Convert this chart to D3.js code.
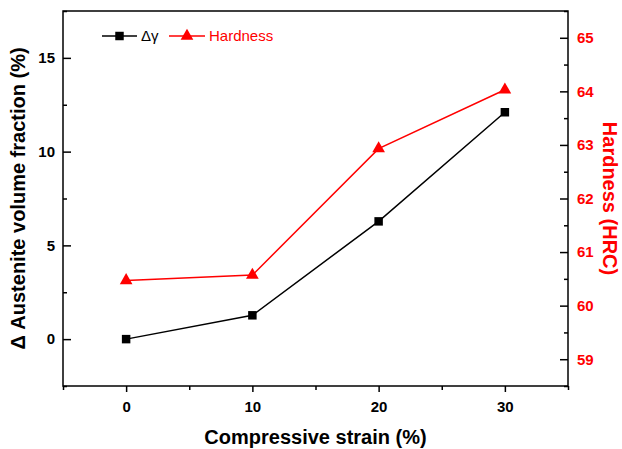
<!DOCTYPE html>
<html>
<head>
<meta charset="UTF-8">
<title>Austenite fraction and hardness vs strain</title>
<script src="https://d3js.org/d3.v7.min.js"></script>
<style>
    body { margin: 0; background: #fff; }
    svg text { font-family: Arial, "Liberation Sans", sans-serif; }
</style>
</head>
<body>
<svg id="chart" width="622" height="449"></svg>
<script>
    // data
    const strain = [0, 10, 20, 30];
    const deltaGamma = [0, 1.27, 6.28, 12.1];
    const hardness = [60.47, 60.57, 62.93, 64.03];
    const xTicks = [0, 10, 20, 30];
    const leftTicks = [0, 5, 10, 15];
    const rightTicks = [59, 60, 61, 62, 63, 64, 65];

    const svg = d3.select('#chart');
    const margin = {left: 63, right: 54, top: 11, bottom: 63};
    const width = 622 - margin.left - margin.right;
    const height = 449 - margin.top - margin.bottom;
    const red = '#ff0000';

    const x = d3.scaleLinear().domain([-5, 35]).range([0, width]);
    const yL = d3.scaleLinear().domain([-2.5, 17.5]).range([height, 0]);
    const yR = d3.scaleLinear().domain([58.5, 65.5]).range([height, 0]);

    const g = svg.append('g').attr('transform', `translate(${margin.left},${margin.top})`);

    // frame
    g.append('rect')
        .attr('width', width).attr('height', height)
        .attr('fill', 'none').attr('stroke', '#000').attr('stroke-width', 1.5);

    function styleAxis(sel, color) {
        sel.select('.domain').remove();
        sel.selectAll('line').attr('stroke', '#000').attr('stroke-width', 1.5);
        sel.selectAll('text')
            .attr('font-size', 15).attr('font-weight', 'bold').attr('fill', color);
    }
    function minor(s) {
        s.select('.domain').remove();
        s.selectAll('line').attr('stroke-width', 1.5);
    }

    // bottom axis, ticks outward
    const xAxis = g.append('g').attr('transform', `translate(0,${height})`)
        .call(d3.axisBottom(x).tickValues(xTicks).tickSize(6).tickPadding(9).tickFormat(d3.format('d')));
    styleAxis(xAxis, '#000');
    g.append('g').attr('transform', `translate(0,${height})`)
        .call(d3.axisBottom(x).tickValues([-5, 5, 15, 25, 35]).tickSize(4).tickFormat(''))
        .call(minor);

    // left axis, ticks inward
    const lAxis = g.append('g')
        .call(d3.axisLeft(yL).tickValues(leftTicks).tickSize(-8).tickPadding(8).tickFormat(d3.format('d')));
    styleAxis(lAxis, '#000');
    g.append('g')
        .call(d3.axisLeft(yL).tickValues([-2.5, 2.5, 7.5, 12.5, 17.5]).tickSize(-4).tickFormat(''))
        .call(minor);

    // right axis, ticks inward
    const rAxis = g.append('g').attr('transform', `translate(${width},0)`)
        .call(d3.axisRight(yR).tickValues(rightTicks).tickSize(-8).tickPadding(9).tickFormat(d3.format('d')));
    styleAxis(rAxis, red);
    g.append('g').attr('transform', `translate(${width},0)`)
        .call(d3.axisRight(yR).tickValues([58.5, 59.5, 60.5, 61.5, 62.5, 63.5, 64.5, 65.5]).tickSize(-4).tickFormat(''))
        .call(minor);

    // series
    const lineL = d3.line().x((d, i) => x(strain[i])).y(d => yL(d));
    const lineR = d3.line().x((d, i) => x(strain[i])).y(d => yR(d));

    g.append('path').datum(deltaGamma).attr('d', lineL)
        .attr('fill', 'none').attr('stroke', '#000').attr('stroke-width', 1.5);
    g.append('path').datum(hardness).attr('d', lineR)
        .attr('fill', 'none').attr('stroke', red).attr('stroke-width', 1.5);

    const sq = d3.symbol().type(d3.symbolSquare).size(72);
    const tri = d3.symbol().type(d3.symbolTriangle).size(70);

    g.selectAll('.sq').data(deltaGamma).join('path')
        .attr('class', 'sq')
        .attr('transform', (d, i) => `translate(${x(strain[i])},${yL(d)})`)
        .attr('d', sq).attr('fill', '#000');
    g.selectAll('.tri').data(hardness).join('path')
        .attr('class', 'tri')
        .attr('transform', (d, i) => `translate(${x(strain[i])},${yR(d)})`)
        .attr('d', tri).attr('fill', red);

    // legend
    const leg = svg.append('g').attr('transform', 'translate(102,36)');
    leg.append('line').attr('x1', 0).attr('x2', 35).attr('stroke', '#000').attr('stroke-width', 1.5);
    leg.append('path').attr('transform', 'translate(17.5,0)').attr('d', sq).attr('fill', '#000');
    leg.append('text').attr('x', 39).attr('y', 5).attr('font-size', 15).text('Δγ');
    leg.append('line').attr('x1', 67).attr('x2', 103).attr('stroke', red).attr('stroke-width', 1.5);
    leg.append('path').attr('transform', 'translate(85,0)').attr('d', tri).attr('fill', red);
    leg.append('text').attr('x', 107).attr('y', 5).attr('font-size', 15).attr('fill', red).text('Hardness');

    // axis titles
    svg.append('text')
        .attr('x', margin.left + width / 2).attr('y', 444)
        .attr('text-anchor', 'middle').attr('font-size', 20).attr('font-weight', 'bold')
        .text('Compressive strain (%)');
    svg.append('text')
        .attr('transform', `translate(25,${margin.top + height / 2}) rotate(-90)`)
        .attr('text-anchor', 'middle').attr('font-size', 20).attr('font-weight', 'bold')
        .text('Δ Austenite volume fraction (%)');
    svg.append('text')
        .attr('transform', `translate(603,${margin.top + height / 2}) rotate(90)`)
        .attr('text-anchor', 'middle').attr('font-size', 20).attr('font-weight', 'bold')
        .attr('fill', red)
        .text('Hardness (HRC)');
</script>
</body>
</html>
